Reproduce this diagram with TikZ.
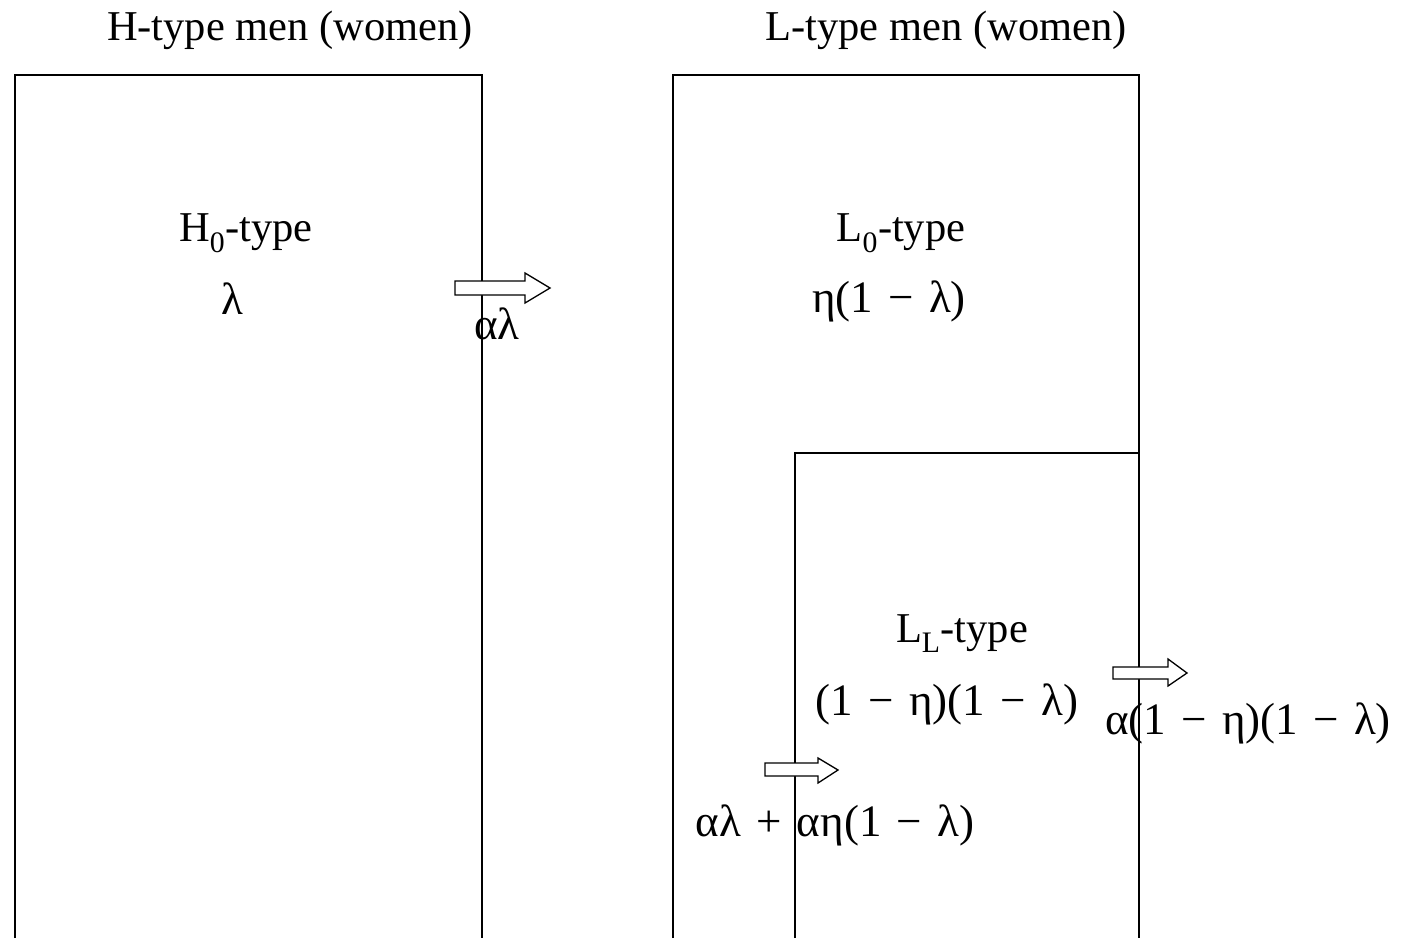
\documentclass[tikz,border=0pt]{standalone}
\usepackage{fontspec}
\setmainfont{Liberation Serif}
\newcommand\mymin{\hspace{0.34em}−\hspace{0.34em}}
\newcommand\myplus{\hspace{0.34em}+\hspace{0.34em}}
\begin{document}
\begin{tikzpicture}[x=1pt,y=-1pt,
  box/.style={line width=1.3pt},
  lbl/.style={anchor=base,inner sep=0pt,font=\fontsize{42.5}{50}\selectfont},
  mth/.style={anchor=base,inner sep=0pt,font=\fontsize{45}{52}\selectfont},
  barrow/.style={draw,line width=1.3pt,fill=white}]
\useasboundingbox (0,0) rectangle (1403,938);
% boxes (open at the bottom)
\draw[box] (15,938) -- (15,75) -- (482,75) -- (482,938);
\draw[box] (673,938) -- (673,75) -- (1139,75) -- (1139,938);
\draw[box] (795,938) -- (795,453) -- (1139,453);
% titles
\node[lbl] (th) at (290,40) {H-type men (women)};
\node[lbl] (tl) at (946,40) {L-type men (women)};
% labels
\node[lbl] (h0) at (246,241) {H\textsubscript{0}-type};
\node[mth] (h0v) at (232,314) {λ};
\node[lbl] (l0) at (901,241) {L\textsubscript{0}-type};
\node[mth] (l0v) at (889,312) {η(1\mymin λ)};
\node[lbl] (ll) at (962,642) {L\textsubscript{L}-type};
\node[mth] (llv) at (947,715) {(1\mymin η)(1\mymin λ)};
% block arrows
\draw[barrow] (455,281) -- (525,281) -- (525,273) -- (550,288) -- (525,303) -- (525,295) -- (455,295) -- cycle;
\draw[barrow] (1113,667) -- (1168,667) -- (1168,659) -- (1187,673) -- (1168,686) -- (1168,679) -- (1113,679) -- cycle;
\draw[barrow] (765,763) -- (818,763) -- (818,758) -- (838,770) -- (818,783) -- (818,776) -- (765,776) -- cycle;
% flow labels
\node[mth] (f1) at (497,339) {αλ};
\node[mth] (f2) at (1248,734) {α(1\mymin η)(1\mymin λ)};
\node[mth] (f3) at (835,836) {αλ\myplus αη(1\mymin λ)};
\end{tikzpicture}
\end{document}
